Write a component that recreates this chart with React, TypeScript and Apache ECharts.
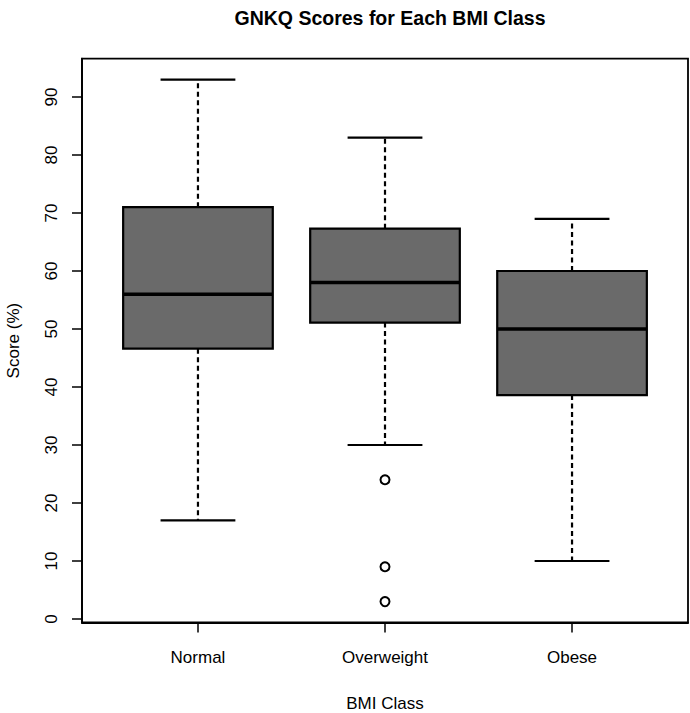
import React, { useEffect, useRef } from "react";
import * as echarts from "echarts";

// ---- data ----
const categories = ["Normal", "Overweight", "Obese"];
const whiskerLow = [17, 30, 10];
const q1 = [46.6, 51.1, 38.6];
const median = [56, 58, 50];
const q3 = [71, 67.3, 60];
const whiskerHigh = [93, 83, 69];
const outlierCategory = ["Overweight", "Overweight", "Overweight"];
const outlierValues = [24, 9, 3];
const yTickValues = [0, 10, 20, 30, 40, 50, 60, 70, 80, 90];

const FONT = "'Liberation Sans', Arial, Helvetica, sans-serif";
const INK = "#000";

export default function App() {
  const ref = useRef<HTMLDivElement>(null);

  useEffect(() => {
    if (!ref.current) return;
    const chart = echarts.init(ref.current, undefined, { renderer: "svg" });

    const boxData = categories.map((_, i) => [
      i + 1,
      whiskerLow[i],
      q1[i],
      median[i],
      q3[i],
      whiskerHigh[i],
    ]);
    const outlierData = outlierValues.map((v, i) => [
      categories.indexOf(outlierCategory[i]) + 1,
      v,
    ]);

    const renderItem = (params: any, api: any) => {
      const x = api.value(0);
      const lo = api.coord([x, api.value(1)]);
      const b1 = api.coord([x, api.value(2)]);
      const md = api.coord([x, api.value(3)]);
      const b3 = api.coord([x, api.value(4)]);
      const hi = api.coord([x, api.value(5)]);
      const halfW = api.size([0.8, 0])[0] / 2;
      const capW = halfW / 2;
      const cx = lo[0];
      const dashStyle = { stroke: INK, lineWidth: 2.2, lineDash: [5, 3.5] };
      const solid = { stroke: INK, lineWidth: 2.2 };
      return {
        type: "group",
        children: [
          { type: "line", shape: { x1: cx, y1: b1[1], x2: cx, y2: lo[1] }, style: dashStyle },
          { type: "line", shape: { x1: cx, y1: b3[1], x2: cx, y2: hi[1] }, style: dashStyle },
          { type: "line", shape: { x1: cx - capW, y1: lo[1], x2: cx + capW, y2: lo[1] }, style: solid },
          { type: "line", shape: { x1: cx - capW, y1: hi[1], x2: cx + capW, y2: hi[1] }, style: solid },
          {
            type: "rect",
            shape: { x: cx - halfW, y: b3[1], width: halfW * 2, height: b1[1] - b3[1] },
            style: { fill: "#6a6a6a", stroke: INK, lineWidth: 2.2 },
          },
          { type: "line", shape: { x1: cx - halfW, y1: md[1], x2: cx + halfW, y2: md[1] }, style: { stroke: INK, lineWidth: 3.5 } },
        ],
      };
    };

    chart.setOption({
      animation: false,
      backgroundColor: "#fff",
      textStyle: { fontFamily: FONT, color: INK },
      title: {
        text: "GNKQ Scores for Each BMI Class",
        left: 385,
        top: 3,
        textAlign: "center",
        textStyle: { fontFamily: FONT, fontWeight: "bold", fontSize: 19.5, color: INK },
      },
      grid: {
        left: 82,
        right: 2,
        top: 58.7,
        bottom: 90.5,
        containLabel: false,
        outerBoundsMode: "none",
        show: true,
        borderColor: INK,
        borderWidth: 1.8,
        backgroundColor: "transparent",
      },
      xAxis: {
        type: "value",
        min: 0.38,
        max: 3.62,
        name: "BMI Class",
        nameLocation: "middle",
        nameGap: 72,
        nameTextStyle: { fontFamily: FONT, fontSize: 17, color: INK },
        axisLine: { show: true, onZero: false, lineStyle: { color: INK, width: 1.8 } },
        axisTick: { show: true, length: 10, customValues: [1, 2, 3], lineStyle: { color: INK, width: 1.5 } },
        axisLabel: {
          customValues: [1, 2, 3],
          formatter: (v: number) => categories[Math.round(v) - 1] ?? "",
          margin: 26,
          fontFamily: FONT,
          fontSize: 17,
          color: INK,
        },
        splitLine: { show: false },
      },
      yAxis: {
        type: "value",
        min: -0.6,
        max: 96.6,
        name: "Score (%)",
        nameLocation: "middle",
        nameRotate: 90,
        nameGap: 60,
        nameTextStyle: { fontFamily: FONT, fontSize: 17, color: INK },
        axisLine: { show: true, onZero: false, lineStyle: { color: INK, width: 1.8 } },
        axisTick: { show: true, length: 10, customValues: yTickValues, lineStyle: { color: INK, width: 1.5 } },
        axisLabel: {
          customValues: yTickValues,
          rotate: 90,
          margin: 22,
          fontFamily: FONT,
          fontSize: 17,
          color: INK,
        },
        splitLine: { show: false },
      },
      series: [
        {
          type: "custom",
          renderItem,
          data: boxData,
          encode: { x: 0, y: [1, 2, 3, 4, 5] },
          clip: false,
        },
        {
          type: "scatter",
          data: outlierData,
          symbol: "circle",
          symbolSize: 9,
          itemStyle: { color: "#fff", borderColor: INK, borderWidth: 2, opacity: 1 },
        },
      ],
    });

    return () => chart.dispose();
  }, []);

  return (
    <div
      ref={ref}
      style={{ position: "fixed", left: 0, top: 0, width: 690, height: 713, background: "#fff" }}
    />
  );
}
